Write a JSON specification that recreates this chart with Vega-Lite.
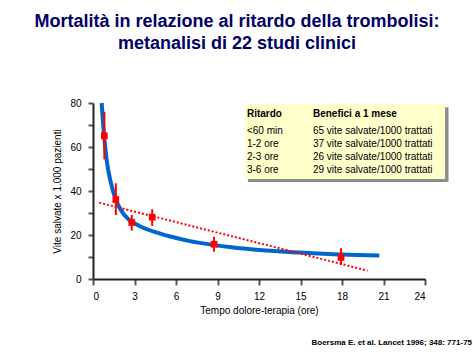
{
  "$schema": "https://vega.github.io/schema/vega-lite/v6.json",
  "width": 332,
  "height": 176,
  "autosize": {"type": "none"},
  "padding": {"left": 93, "top": 103, "right": 48, "bottom": 75},
  "background": "white",
  "config": {
    "view": {"stroke": null},
    "font": "Liberation Sans",
    "axis": {
      "grid": false,
      "domainColor": "#222222",
      "domainWidth": 2,
      "tickColor": "#555555",
      "tickWidth": 2,
      "labelFont": "Liberation Sans",
      "labelFontSize": 10,
      "labelColor": "#000000",
      "titleFont": "Liberation Sans",
      "titleFontSize": 10,
      "titleFontWeight": "normal",
      "titleColor": "#000000"
    }
  },
  "title": {
    "text": ["Mortalità in relazione al ritardo della trombolisi:", "metanalisi di 22 studi clinici"],
    "font": "Liberation Sans",
    "fontSize": 18,
    "fontWeight": "bold",
    "color": "#000066",
    "lineHeight": 22,
    "anchor": "middle",
    "frame": "group",
    "dx": -22,
    "offset": 42
  },
  "datasets": {
    "curve": [
      {"x": 0.63, "y": 80}, {"x": 0.7, "y": 73}, {"x": 0.82, "y": 64}, {"x": 1.0, "y": 53.5},
      {"x": 1.3, "y": 43.5}, {"x": 1.65, "y": 36}, {"x": 2.0, "y": 31.5}, {"x": 2.55, "y": 27.2},
      {"x": 3.4, "y": 24}, {"x": 4.5, "y": 21.3}, {"x": 5.6, "y": 19.3}, {"x": 7.0, "y": 17.2},
      {"x": 8.75, "y": 15.4}, {"x": 10, "y": 14.4}, {"x": 12, "y": 13.2}, {"x": 15, "y": 12.0},
      {"x": 18, "y": 11.1}, {"x": 20.7, "y": 10.7}
    ],
    "trend": [
      {"x": 0.45, "y": 34.7}, {"x": 19.85, "y": 3.8}
    ],
    "points": [
      {"x": 0.82, "y": 65.1, "lo": 54.4, "hi": 76.0},
      {"x": 1.65, "y": 36.1, "lo": 29.1, "hi": 43.5},
      {"x": 2.8, "y": 25.7, "lo": 22.0, "hi": 29.1},
      {"x": 4.28, "y": 28.1, "lo": 24.1, "hi": 31.7},
      {"x": 8.75, "y": 15.8, "lo": 12.4, "hi": 19.2},
      {"x": 17.93, "y": 9.8, "lo": 6.4, "hi": 14.0}
    ],
    "box": [
      {"part": "shadow", "x": 11.2, "x2": 25.7, "y": 78.1, "y2": 44.1},
      {"part": "box", "x": 11.0, "x2": 25.45, "y": 79.5, "y2": 45.5}
    ],
    "table": [
      {"x": 11.13, "y": 75.0, "label": "Ritardo", "bold": true},
      {"x": 15.9, "y": 75.0, "label": "Benefici a 1 mese", "bold": true},
      {"x": 11.13, "y": 67.3, "label": "<60 min", "bold": false},
      {"x": 15.9, "y": 67.3, "label": "65 vite salvate/1000 trattati", "bold": false},
      {"x": 11.13, "y": 61.4, "label": "1-2 ore", "bold": false},
      {"x": 15.9, "y": 61.4, "label": "37 vite salvate/1000 trattati", "bold": false},
      {"x": 11.13, "y": 55.5, "label": "2-3 ore", "bold": false},
      {"x": 15.9, "y": 55.5, "label": "26 vite salvate/1000 trattati", "bold": false},
      {"x": 11.13, "y": 49.6, "label": "3-6 ore", "bold": false},
      {"x": 15.9, "y": 49.6, "label": "29 vite salvate/1000 trattati", "bold": false}
    ],
    "source": [
      {"x": 27.4, "y": -29.1, "label": "Boersma E. et al. Lancet 1996; 348: 771-75"}
    ]
  },
  "encoding": {
    "x": {
      "field": "x", "type": "quantitative",
      "scale": {"domain": [0, 24], "nice": false, "zero": false},
      "axis": {
        "values": [0, 3, 6, 9, 12, 15, 18, 21, 24],
        "title": "Tempo dolore-terapia (ore)",
        "tickSize": 6,
        "labelPadding": 6,
        "titlePadding": 4
      }
    },
    "y": {
      "field": "y", "type": "quantitative",
      "scale": {"domain": [0, 80], "nice": false, "zero": false},
      "axis": {
        "values": [0, 10, 20, 30, 40, 50, 60, 70, 80],
        "labelExpr": "datum.value % 20 == 0 ? datum.label : ''",
        "title": "Vite salvate x 1.000 pazienti",
        "tickSize": 5,
        "labelPadding": 7,
        "titlePadding": 7
      }
    }
  },
  "layer": [
    {
      "data": {"name": "box"},
      "mark": {"type": "rect"},
      "encoding": {
        "x2": {"field": "x2"},
        "y2": {"field": "y2"},
        "color": {
          "field": "part", "type": "nominal",
          "scale": {"domain": ["shadow", "box"], "range": ["#8c8c8c", "#ffffcc"]},
          "legend": null
        }
      }
    },
    {
      "data": {"name": "table"},
      "transform": [{"filter": "datum.bold"}],
      "mark": {"type": "text", "align": "left", "baseline": "middle", "fontSize": 10, "fontWeight": "bold", "font": "Liberation Sans", "color": "#000000"},
      "encoding": {"text": {"field": "label"}}
    },
    {
      "data": {"name": "table"},
      "transform": [{"filter": "!datum.bold"}],
      "mark": {"type": "text", "align": "left", "baseline": "middle", "fontSize": 10, "font": "Liberation Sans", "color": "#000000"},
      "encoding": {"text": {"field": "label"}}
    },
    {
      "data": {"name": "curve"},
      "mark": {"type": "line", "interpolate": "monotone", "color": "#0066cc", "strokeWidth": 4}
    },
    {
      "data": {"name": "trend"},
      "mark": {"type": "line", "color": "#ff0000", "strokeWidth": 2, "strokeDash": [2, 2]}
    },
    {
      "data": {"name": "points"},
      "mark": {"type": "rule", "color": "#ff0000", "strokeWidth": 2},
      "encoding": {
        "y": {"field": "lo", "type": "quantitative"},
        "y2": {"field": "hi"}
      }
    },
    {
      "data": {"name": "points"},
      "mark": {"type": "point", "shape": "square", "filled": true, "color": "#ff0000", "opacity": 1, "size": 45}
    },
    {
      "data": {"name": "source"},
      "mark": {"type": "text", "align": "right", "baseline": "middle", "fontSize": 8, "fontWeight": "bold", "font": "Liberation Sans", "color": "#000000"},
      "encoding": {"text": {"field": "label"}}
    }
  ]
}
